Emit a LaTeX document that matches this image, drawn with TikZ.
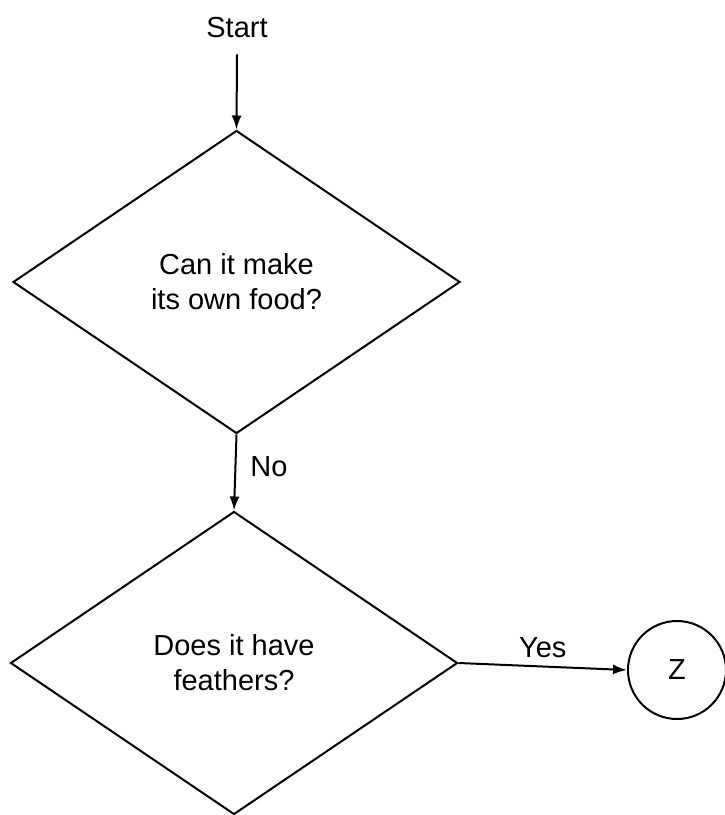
\documentclass[tikz,border=0pt]{standalone}
\usepackage{fontspec}
\setmainfont{Liberation Sans}
\usetikzlibrary{shapes.geometric,arrows.meta}
\begin{document}
\begin{tikzpicture}[x=1pt,y=-1pt,
  every node/.style={font=\fontsize{29}{35}\selectfont},
  decision/.style={diamond,draw,line width=2pt,inner sep=0pt,
    minimum width=447pt,minimum height=303pt,align=center},
  term/.style={circle,draw,line width=2pt,minimum size=98pt,inner sep=0pt},
  lbl/.style={inner sep=2pt},
  arr/.style={line width=2pt,-{Latex[length=14pt,width=10pt]}}]
\useasboundingbox (0,0) rectangle (725,815);
\node[lbl] (start) at (237,28) {Start};
\node[decision] (d1) at (236.5,282) {Can it make\\its own food?};
\node[decision] (d2) at (234,663) {Does it have\\feathers?};
\node[term] (z) at (677,670) {Z};
\draw[arr] ([yshift=-14pt]start.south) -- (d1.north);
\draw[arr] (d1.south) -- node[lbl,right=12pt,pos=0.42] (no) {No} (d2.north);
\draw[arr] (d2.east) -- node[lbl,above=6pt,pos=0.5] (yes) {Yes} (z.west);
\end{tikzpicture}
\end{document}
